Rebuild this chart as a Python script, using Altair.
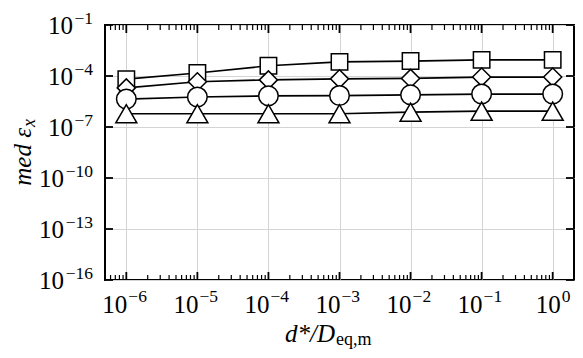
import altair as alt
import pandas as pd

# ---- data ----
x_values = [1e-6, 1e-5, 1e-4, 1e-3, 1e-2, 1e-1, 1e0]
squares = [6.5e-5, 1.5e-4, 4.0e-4, 6.8e-4, 7.6e-4, 8.9e-4, 8.9e-4]
diamonds = [2.0e-5, 4.6e-5, 5.9e-5, 6.8e-5, 7.2e-5, 8.7e-5, 8.7e-5]
circles = [4.4e-6, 5.8e-6, 6.8e-6, 7.1e-6, 7.8e-6, 8.7e-6, 8.7e-6]
triangles = [6.0e-7, 6.0e-7, 6.0e-7, 6.0e-7, 7.4e-7, 8.5e-7, 8.5e-7]
series_names = ["square", "diamond", "circle", "triangle"]

x_major = [1e-6, 1e-5, 1e-4, 1e-3, 1e-2, 1e-1, 1e0]
x_major_exp = [-6, -5, -4, -3, -2, -1, 0]
x_minor = [6e-7, 7e-7, 8e-7, 9e-7,
           2e-6, 3e-6, 4e-6, 5e-6, 6e-6, 7e-6, 8e-6, 9e-6,
           2e-5, 3e-5, 4e-5, 5e-5, 6e-5, 7e-5, 8e-5, 9e-5,
           2e-4, 3e-4, 4e-4, 5e-4, 6e-4, 7e-4, 8e-4, 9e-4,
           2e-3, 3e-3, 4e-3, 5e-3, 6e-3, 7e-3, 8e-3, 9e-3,
           2e-2, 3e-2, 4e-2, 5e-2, 6e-2, 7e-2, 8e-2, 9e-2,
           2e-1, 3e-1, 4e-1, 5e-1, 6e-1, 7e-1, 8e-1, 9e-1]
y_major = [1e-16, 1e-13, 1e-10, 1e-7, 1e-4, 1e-1]
y_major_exp = [-16, -13, -10, -7, -4, -1]
x_domain = [5.012e-7, 1.995]
y_domain = [1e-16, 1e-1]

# ---- layout ----
W, H = 469, 255
FONT = "Liberation Serif"
BIG, SMALL = 25, 17.5

rows = []
for name, vals in zip(series_names, [squares, diamonds, circles, triangles]):
    for xv, yv in zip(x_values, vals):
        rows.append({"x": xv, "y": yv, "series": name})
df = pd.DataFrame(rows)

xs = alt.Scale(type="log", domain=x_domain, nice=False)
ys = alt.Scale(type="log", domain=y_domain, nice=False)

x_axis = alt.Axis(values=x_major, title=None, grid=True, gridColor="#d4d4d4", gridWidth=1,
                  ticks=False, domain=False, labels=False)
y_axis = alt.Axis(values=y_major, title=None, grid=True, gridColor="#d4d4d4", gridWidth=1,
                  ticks=False, domain=False, labels=False)

X = alt.X("x:Q", scale=xs, axis=x_axis)
Y = alt.Y("y:Q", scale=ys, axis=y_axis)

lines = alt.Chart(df).mark_line(color="black", strokeWidth=1.7).encode(
    x=X, y=Y, detail="series:N",
)

points = alt.Chart(df).mark_point(
    filled=True, fill="white", stroke="black", strokeWidth=1.5, opacity=1, fillOpacity=1
).encode(
    x=X, y=Y,
    shape=alt.Shape("series:N", scale=alt.Scale(domain=series_names,
                    range=["square", "diamond", "circle", "triangle-up"]), legend=None),
    size=alt.Size("series:O", scale=alt.Scale(domain=series_names,
                  range=[270, 440, 280, 290]), legend=None),
)

xmaj_df = pd.DataFrame({"x": x_major, "e": x_major_exp})
xmin_df = pd.DataFrame({"x": x_minor})
ymaj_df = pd.DataFrame({"y": y_major, "e": y_major_exp})


def xticks(data, length, width):
    bottom = alt.Chart(data).mark_rule(color="black", strokeWidth=width).encode(
        x=X, y=alt.value(H), y2=alt.value(H - length))
    top = alt.Chart(data).mark_rule(color="black", strokeWidth=width).encode(
        x=X, y=alt.value(0), y2=alt.value(length))
    return [bottom, top]


def yticks(data, length, width):
    left = alt.Chart(data).mark_rule(color="black", strokeWidth=width).encode(
        y=Y, x=alt.value(0), x2=alt.value(length))
    right = alt.Chart(data).mark_rule(color="black", strokeWidth=width).encode(
        y=Y, x=alt.value(W), x2=alt.value(W - length))
    return [left, right]


EXP = "datum.e < 0 ? '\u2212' + toString(abs(datum.e)) : toString(datum.e)"
txt = dict(font=FONT, color="black", baseline="alphabetic")

# x tick labels: "10" plus raised exponent
XB = H + 33
x_labels = []
for cond, dx10 in [("datum.e < 0", 1), ("datum.e >= 0", 8)]:
    x_labels.append(alt.Chart(xmaj_df).transform_filter(cond).mark_text(
        text="10", align="right", fontSize=BIG, dx=dx10, **txt).encode(x=X, y=alt.value(XB)))
    x_labels.append(alt.Chart(xmaj_df).transform_calculate(t=EXP).transform_filter(cond).mark_text(
        align="left", fontSize=SMALL, dx=dx10 + 1, **txt).encode(x=X, y=alt.value(XB - 11), text="t:N"))

# y tick labels
YR = -12
y_labels = [alt.Chart(ymaj_df).transform_calculate(t=EXP).mark_text(
    align="right", fontSize=SMALL, dy=-1, **txt).encode(y=Y, x=alt.value(YR), text="t:N")]
for cond, off in [("datum.e > -10", 20), ("datum.e <= -10", 29)]:
    y_labels.append(alt.Chart(ymaj_df).transform_filter(cond).mark_text(
        text="10", align="right", fontSize=BIG, dy=9, **txt).encode(y=Y, x=alt.value(YR - off)))

one = pd.DataFrame({"a": [0]})
XT = H + 62
xt_main = alt.Chart(one).mark_text(text="d*/D", fontSize=BIG, fontStyle="italic",
                                   align="right", **txt).encode(x=alt.value(230), y=alt.value(XT))
xt_sub = alt.Chart(one).mark_text(text="eq,m", fontSize=18, align="left", dx=1, dy=3, **txt).encode(
    x=alt.value(230), y=alt.value(XT))
yt_main = alt.Chart(one).mark_text(text="med \u03b5", fontSize=BIG, fontStyle="italic",
                                   align="right", angle=270, **txt).encode(x=alt.value(-74), y=alt.value(103))
yt_sub = alt.Chart(one).mark_text(text="x", fontSize=18, fontStyle="italic",
                                  align="left", angle=270, dx=1, dy=4, **txt).encode(
    x=alt.value(-74), y=alt.value(103))

layers = [lines, points] + xticks(xmaj_df, 8, 1.8) + xticks(xmin_df, 5, 1.2) + yticks(ymaj_df, 8, 1.8) + \
    x_labels + y_labels + [xt_main, xt_sub, yt_main, yt_sub]

chart = alt.layer(*layers).properties(
    width=W, height=H,
    autosize=alt.AutoSizeParams(type="none"),
    padding={"left": 97, "top": 17, "right": 1, "bottom": 70},
).configure_view(stroke="black", strokeWidth=2)

chart.save("out.html", embed_options={"renderer": "svg", "actions": False})
